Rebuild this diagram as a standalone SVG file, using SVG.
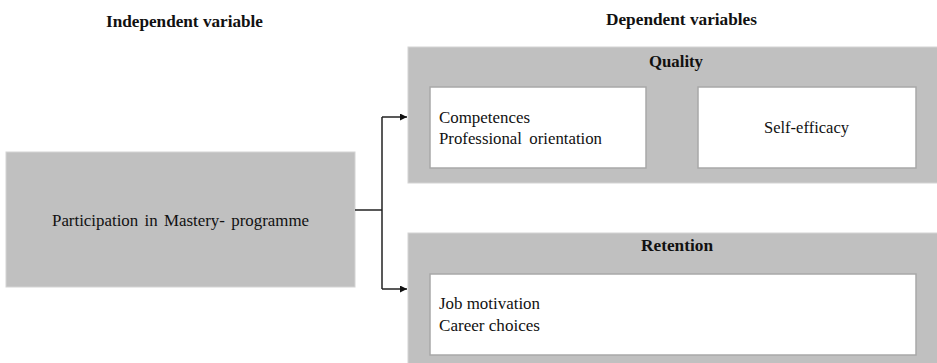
<svg xmlns="http://www.w3.org/2000/svg" width="937" height="363" viewBox="0 0 937 363">
<defs>
<style>
text{font-family:"Liberation Serif","Times New Roman","DejaVu Serif",serif;fill:#111;font-size:16px}
.h{font-weight:bold;font-size:17px}
.b{font-weight:bold}
.grey{fill:#c0c0c0;stroke:#d4d4d4;stroke-width:1}
.inner{fill:#fff;stroke:#a8a8a8;stroke-width:1.5}
.c{fill:none;stroke:#222;stroke-width:1.5}
</style>
<marker id="ah" viewBox="0 0 10 10" refX="10" refY="5" markerWidth="7" markerHeight="7" markerUnits="userSpaceOnUse" orient="auto"><path d="M0,0 L10,5 L0,10 z" fill="#111"/></marker>
</defs>
<rect width="937" height="363" fill="#fff"/>
<g font-family="Liberation Serif, Times New Roman, serif">
<text class="h" x="106" y="27" textLength="157" lengthAdjust="spacingAndGlyphs">Independent variable</text>
<text class="h" x="606" y="25" textLength="151" lengthAdjust="spacingAndGlyphs">Dependent variables</text>
<g id="participation">
<rect class="grey" x="6" y="152" width="349" height="135"/>
<text x="52" y="226" textLength="257" lengthAdjust="spacingAndGlyphs" style="word-spacing:2px">Participation in Mastery- programme</text>
</g>
<g id="quality">
<rect class="grey" x="408" y="47" width="535" height="136"/>
<text class="b" x="649" y="67" textLength="54" lengthAdjust="spacingAndGlyphs">Quality</text>
</g>
<g id="competences">
<rect class="inner" x="430" y="87" width="216" height="81"/>
<text x="439" y="123" textLength="91" lengthAdjust="spacingAndGlyphs">Competences</text>
<text x="439" y="144" textLength="163" lengthAdjust="spacingAndGlyphs" style="word-spacing:3px">Professional orientation</text>
</g>
<g id="selfefficacy">
<rect class="inner" x="698" y="87" width="218" height="81"/>
<text x="764" y="133" textLength="85" lengthAdjust="spacingAndGlyphs">Self-efficacy</text>
</g>
<g id="retention">
<rect class="grey" x="408" y="233" width="535" height="136"/>
<text class="b" x="641" y="251" textLength="72" lengthAdjust="spacingAndGlyphs">Retention</text>
</g>
<g id="jobmotivation">
<rect class="inner" x="430" y="274" width="486" height="81"/>
<text x="439" y="309" textLength="101" lengthAdjust="spacingAndGlyphs">Job motivation</text>
<text x="439" y="331" textLength="101" lengthAdjust="spacingAndGlyphs">Career choices</text>
</g>
</g>
<g id="connectors">
<path class="c" d="M355,210 H382"/>
<path class="c" d="M382,117 V289"/>
<path class="c" d="M382,117 H407" marker-end="url(#ah)"/>
<path class="c" d="M382,289 H407" marker-end="url(#ah)"/>
</g>
</svg>
